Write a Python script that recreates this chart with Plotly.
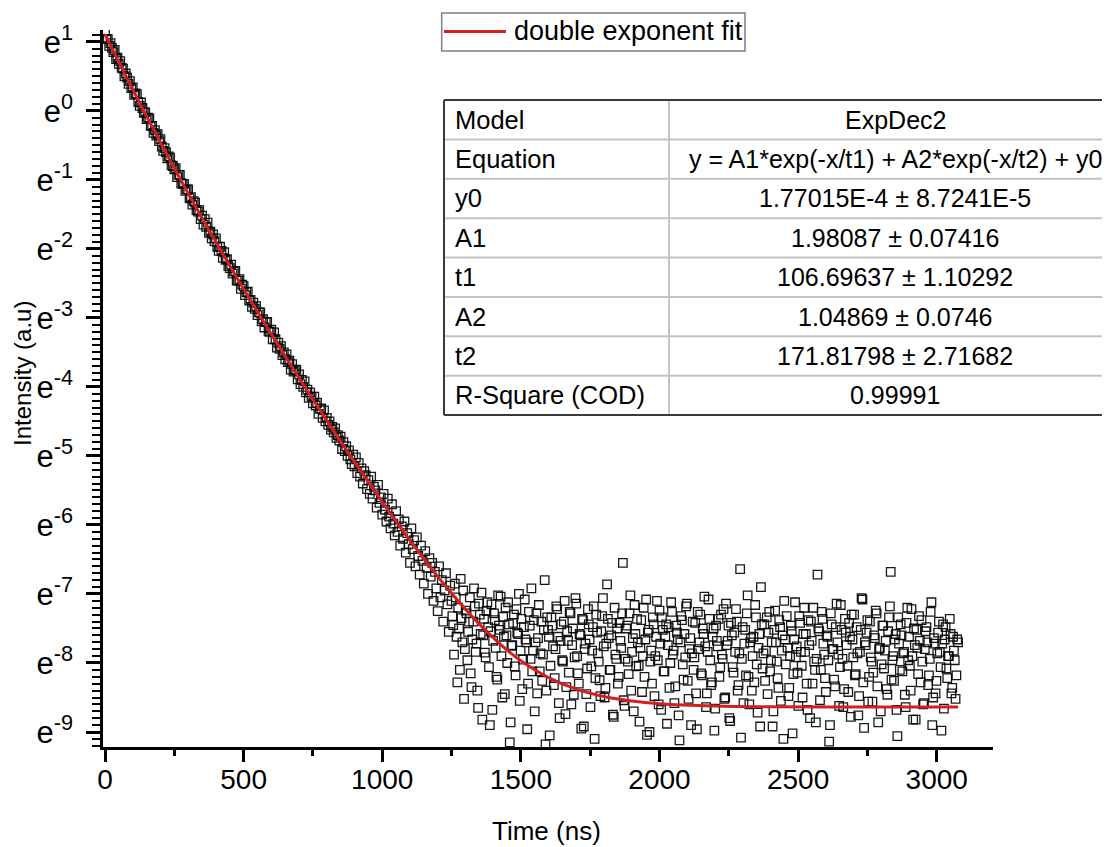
import numpy as np
import plotly.graph_objects as go

# ---------------- data ----------------
# red fitted curve: time (ns) and ln(intensity)
fit_time = [0, 50, 100, 150, 200, 250, 300, 350, 400, 450, 500, 550, 600, 650, 700,
            750, 800, 850, 900, 950, 1000, 1050, 1100, 1150, 1200, 1250, 1300, 1350,
            1400, 1450, 1500, 1600, 1700, 1800, 1900, 2000, 2200, 2400, 2600, 2800, 3077]
fit_ln = [1.108, 0.705, 0.309, -0.079, -0.460, -0.832, -1.197, -1.553, -1.903, -2.246,
          -2.583, -2.913, -3.238, -3.558, -3.872, -4.183, -4.488, -4.790, -5.087, -5.380,
          -5.667, -5.949, -6.224, -6.490, -6.746, -6.991, -7.222, -7.437, -7.633, -7.812,
          -7.967, -8.211, -8.378, -8.485, -8.550, -8.589, -8.623, -8.634, -8.638, -8.639,
          -8.639]

# measured decay (open squares), ln(intensity)
decay_time = list(range(0, 800, 5))
decay_ln = [1.15, 1.04, 1.04, 0.94, 0.98, 0.91, 0.85, 0.88, 0.75, 0.77,
            0.68, 0.72, 0.62, 0.61, 0.50, 0.54, 0.48, 0.39, 0.43, 0.33,
            0.34, 0.23, 0.25, 0.24, 0.13, 0.07, 0.12, 0.04, -0.03, -0.02,
            -0.12, -0.10, -0.11, -0.22, -0.22, -0.32, -0.28, -0.36, -0.34, -0.44,
            -0.41, -0.52, -0.58, -0.54, -0.60, -0.69, -0.66, -0.68, -0.79, -0.80,
            -0.85, -0.83, -0.96, -0.93, -0.93, -1.05, -1.06, -1.06, -1.16, -1.14,
            -1.14, -1.27, -1.25, -1.36, -1.31, -1.33, -1.44, -1.46, -1.44, -1.57,
            -1.52, -1.65, -1.57, -1.68, -1.62, -1.77, -1.75, -1.85, -1.79, -1.89,
            -1.85, -1.97, -2.03, -1.97, -2.03, -2.13, -2.05, -2.16, -2.15, -2.25,
            -2.28, -2.23, -2.36, -2.33, -2.32, -2.46, -2.46, -2.44, -2.58, -2.52,
            -2.54, -2.67, -2.63, -2.62, -2.75, -2.74, -2.84, -2.78, -2.87, -2.83,
            -2.96, -2.92, -2.92, -3.05, -3.02, -3.14, -3.06, -3.06, -3.20, -3.20,
            -3.17, -3.31, -3.21, -3.31, -3.43, -3.36, -3.45, -3.41, -3.54, -3.50,
            -3.60, -3.53, -3.64, -3.62, -3.75, -3.67, -3.78, -3.76, -3.75, -3.89,
            -3.82, -3.96, -3.90, -4.00, -3.92, -4.08, -4.04, -4.16, -4.08, -4.14,
            -4.24, -4.14, -4.27, -4.23, -4.39, -4.32, -4.31, -4.45, -4.34, -4.50]

mid_time = list(range(800, 1250, 5))
mid_ln = [-4.45, -4.55, -4.50, -4.62, -4.58, -4.66, -4.60, -4.74, -4.70, -4.78,
          -4.72, -4.90, -4.80, -4.93, -4.86, -5.00, -4.92, -5.05, -5.12, -4.98,
          -5.15, -5.02, -5.25, -5.10, -5.30, -5.18, -5.40, -5.22, -5.28, -5.48,
          -5.35, -5.55, -5.30, -5.62, -5.45, -5.50, -5.75, -5.42, -5.68, -5.60,
          -5.85, -5.55, -5.78, -5.95, -5.62, -5.88, -6.05, -5.70, -5.98, -6.15,
          -5.80, -6.10, -5.92, -6.30, -6.02, -6.20, -5.95, -6.40, -6.12, -6.28,
          -6.55, -6.05, -6.35, -6.22, -6.60, -6.18, -6.45, -6.72, -6.30, -6.52,
          -6.85, -6.38, -6.62, -7.00, -6.48, -6.75, -6.55, -7.10, -6.68, -6.92,
          -7.25, -6.60, -7.05, -6.80, -7.40, -6.95, -6.70, -7.15, -7.55, -6.88]

tail_time = list(range(1250, 3075, 6))
tail_ln = [-7.10, -7.45, -6.85, -7.62, -7.20, -8.10, -7.35, -6.95, -7.80, -7.28,
           -7.55, -7.05, -8.35, -7.40, -7.18, -7.72, -8.65, -7.30, -6.98, -7.60,
           -7.85, -7.25, -7.48, -8.90, -7.15, -7.68, -7.38, -8.20, -7.02, -7.52,
           -7.90, -7.33, -8.45, -7.60, -7.12, -9.15, -7.75, -7.42, -8.05, -7.22,
           -7.58, -8.55, -7.36, -7.95, -7.08, -7.70, -8.30, -7.46, -6.92, -7.82,
           -8.70, -7.28, -7.64, -8.12, -7.40, -7.88, -6.80, -8.40, -7.52, -9.05,
           -7.34, -7.76, -8.22, -7.18, -7.62, -8.80, -7.44, -7.98, -7.10, -8.35,
           -7.68, -7.26, -8.60, -7.50, -7.92, -7.14, -8.15, -7.58, -8.95, -7.38,
           -7.80, -8.45, -7.22, -7.66, -8.05, -7.48, -9.10, -7.30, -7.86, -8.25,
           -7.54, -7.06, -8.50, -7.72, -7.36, -8.10, -7.60, -8.75, -7.20, -7.94,
           -8.30, -7.42, -7.78, -6.55, -8.62, -7.50, -7.98, -7.28, -8.40, -7.64,
           -7.16, -8.05, -7.70, -8.85, -7.38, -7.90, -8.20, -7.08, -7.56, -9.00,
           -7.82, -7.34, -8.48, -7.62, -7.96, -7.24, -8.68, -7.52, -8.12, -7.44,
           -7.74, -8.36, -7.12, -7.88, -8.58, -7.46, -7.66, -9.12, -7.32, -8.02,
           -7.58, -7.18, -8.26, -7.80, -8.90, -7.40, -7.92, -8.44, -7.26, -7.70,
           -8.15, -7.50, -7.04, -8.64, -7.84, -7.36, -8.32, -7.62, -8.98, -7.46,
           -7.76, -8.20, -7.30, -7.94, -8.52, -7.14, -7.68, -8.80, -7.42, -8.06,
           -7.56, -7.22, -8.40, -7.86, -9.08, -7.48, -7.72, -8.18, -7.02, -8.60,
           -7.64, -7.90, -8.28, -7.34, -8.72, -7.58, -6.90, -8.08, -7.44, -7.82,
           -8.45, -7.26, -7.96, -8.92, -7.52, -7.70, -8.22, -7.38, -8.55, -7.60,
           -7.10, -8.02, -7.78, -8.36, -7.46, -9.02, -7.66, -7.92, -8.14, -7.32,
           -7.84, -8.50, -7.20, -7.58, -8.68, -7.74, -7.40, -8.30, -7.98, -8.86,
           -6.72, -7.54, -8.10, -7.36, -7.88, -8.42, -7.62, -9.14, -7.28, -7.80,
           -8.24, -7.48, -7.70, -8.62, -7.16, -7.94, -8.38, -7.56, -8.04, -7.42,
           -8.78, -7.66, -7.30, -8.16, -7.86, -8.48, -7.52, -7.08, -8.94, -7.74,
           -7.38, -8.20, -7.92, -8.56, -7.60, -7.24, -8.34, -7.80, -8.70, -7.46,
           -8.08, -7.68, -8.46, -7.34, -6.68, -7.96, -8.26, -7.58, -9.06, -7.72,
           -7.44, -8.12, -7.84, -8.64, -7.20, -7.62, -8.40, -7.90, -7.50, -8.82,
           -7.78, -7.32, -8.28, -7.98, -8.58, -7.54, -7.70, -8.18, -7.26, -8.90,
           -7.64, -8.44, -7.86, -7.40, -8.06, -7.72, -8.66, -7.48, -8.22, -7.90,
           -7.58, -8.36, -7.82, -8.52, -7.66]

tail2_time = list(range(1253, 3078, 6))
tail2_ln = [-7.32, -7.88, -7.05, -8.28, -7.50, -6.78, -7.70, -8.52, -7.24, -7.96,
            -7.40, -8.15, -7.66, -6.92, -7.84, -8.40, -7.14, -7.58, -8.82, -7.36,
            -7.92, -7.12, -8.06, -7.54, -8.68, -7.28, -7.78, -8.24, -7.46, -7.04,
            -8.50, -7.62, -7.20, -8.00, -7.44, -8.86, -7.74, -7.30, -8.18, -7.56,
            -7.00, -7.82, -8.38, -7.48, -7.66, -8.96, -7.26, -7.94, -8.12, -7.38,
            -7.70, -8.44, -7.16, -7.86, -8.26, -7.52, -9.18, -7.34, -7.62, -8.04,
            -7.46, -8.32, -7.80, -7.22, -8.58, -7.68, -7.96, -7.40, -8.74, -7.54,
            -8.14, -7.28, -7.74, -8.46, -7.06, -7.90, -8.30, -7.60, -7.36, -8.92,
            -7.72, -8.08, -7.44, -8.64, -7.82, -7.18, -8.22, -7.56, -7.98, -8.48,
            -7.32, -7.76, -8.36, -6.86, -7.64, -8.10, -7.42, -8.78, -7.88, -7.50,
            -8.20, -7.68, -7.28, -8.54, -7.94, -7.46, -8.16, -7.02, -7.84, -8.70,
            -7.58, -7.36, -8.04, -7.78, -8.42, -7.20, -7.66, -9.04, -7.52, -7.98,
            -8.30, -7.44, -7.90, -7.10, -8.60, -7.72, -7.34, -8.12, -7.62, -8.88,
            -7.48, -8.00, -7.26, -7.82, -8.34, -7.56, -8.76, -7.70, -7.38, -8.24,
            -7.92, -7.14, -8.52, -7.64, -7.86, -8.10, -7.42, -8.96, -7.80, -7.30,
            -8.18, -7.58, -7.76, -8.44, -7.08, -7.96, -8.28, -7.50, -8.66, -7.68,
            -7.36, -8.06, -7.88, -7.22, -8.50, -7.74, -7.46, -8.84, -7.60, -8.14,
            -7.84, -7.40, -8.32, -6.64, -7.94, -8.58, -7.52, -7.28, -8.20, -7.70,
            -8.40, -7.62, -7.16, -8.02, -7.78, -8.92, -7.44, -7.86, -8.26, -7.34,
            -7.56, -8.12, -7.70, -8.70, -7.24, -7.98, -8.36, -7.48, -7.82, -9.10,
            -7.66, -7.32, -8.48, -7.90, -7.54, -8.16, -7.12, -7.76, -8.62, -7.42,
            -8.04, -7.58, -7.84, -8.30, -7.38, -8.80, -7.68, -7.20, -8.10, -7.94,
            -7.50, -8.54, -7.26, -7.72, -8.22, -7.60, -7.96, -8.90, -7.44, -7.80,
            -8.34, -7.14, -7.88, -8.06, -7.52, -8.64, -7.36, -7.74, -8.42, -7.62,
            -7.30, -7.92, -8.18, -7.48, -8.76, -7.84, -7.06, -8.28, -7.70, -7.56,
            -8.56, -7.40, -7.98, -8.14, -7.64, -7.28, -8.86, -7.78, -8.02, -7.46,
            -7.82, -8.38, -7.54, -7.18, -8.24, -7.90, -7.66, -8.68, -7.34, -8.10,
            -7.60, -7.86, -8.46, -7.42, -7.96, -8.04, -7.22, -8.82, -7.74, -7.52,
            -8.16, -7.68, -7.38, -8.60, -7.80, -7.48, -8.32, -7.94, -7.12, -8.50,
            -7.72, -8.26, -7.56, -7.84, -8.98, -7.44, -7.66, -8.08, -7.90, -7.36,
            -8.44, -7.62, -7.96, -8.18, -7.70]

x_tick_vals = [0, 500, 1000, 1500, 2000, 2500, 3000]
x_minor_vals = [250, 750, 1250, 1750, 2250, 2750]
y_tick_powers = [-9, -8, -7, -6, -5, -4, -3, -2, -1, 0, 1]

legend_label = "double exponent fit"
table_labels = ["Model", "Equation", "y0", "A1", "t1", "A2", "t2", "R-Square (COD)"]
table_values = ["ExpDec2",
                "y = A1*exp(-x/t1) + A2*exp(-x/t2) + y0",
                "1.77015E-4 ± 8.7241E-5",
                "1.98087 ± 0.07416",
                "106.69637 ± 1.10292",
                "1.04869 ± 0.0746",
                "171.81798 ± 2.71682",
                "0.99991"]

# ---------------- layout geometry ----------------
# the page body adds an 8px margin at the top-left, so the figure is shifted
# by 8px; it is sized to reach exactly the right and bottom window edges
OFF = 8
W, H = 1110 - OFF, 847 - OFF
PLOT_L, PLOT_R, PLOT_T, PLOT_B = 103 - OFF, 993 - OFF, 30 - OFF, 747 - OFF
L, R, T, B = PLOT_L, W - PLOT_R, PLOT_T, H - PLOT_B
PW, PH = PLOT_R - PLOT_L, PLOT_B - PLOT_T
FONT = "Arial, Liberation Sans, sans-serif"


def px_x(px):
    """reference-picture x pixel -> paper coordinate"""
    return (px - OFF - PLOT_L) / PW


def px_y(py):
    """reference-picture y pixel -> paper coordinate"""
    return (PLOT_B - (py - OFF)) / PH


meas_time = decay_time + mid_time + tail_time + tail2_time
meas_ln = decay_ln + mid_ln + tail_ln + tail2_ln

fig = go.Figure()
fig.add_trace(go.Scatter(
    x=meas_time, y=np.exp(meas_ln), mode="markers", showlegend=False,
    marker=dict(symbol="square-open", size=8.5, color="rgba(0,0,0,0.9)",
                line=dict(width=1.3, color="rgba(0,0,0,0.9)")),
    name="data"))
fig.add_trace(go.Scatter(
    x=fit_time, y=np.exp(fit_ln), mode="lines", line_shape="spline",
    line=dict(color="#d2201f", width=3), name=legend_label, showlegend=False))

ln10 = np.log(10)
y_lo, y_hi = -9.217, 1.17
y_major = [float(np.exp(p)) for p in y_tick_powers]
y_text = ["e<sup>%d</sup>" % p for p in y_tick_powers]
y_minor = []
for n in range(-10, 2):
    for k in range(1, 10):
        v = n + k / 10
        if y_lo <= v <= y_hi:
            y_minor.append(float(np.exp(v)))

fig.update_xaxes(
    range=[-7.2, 3203], showgrid=False, zeroline=False, showline=True,
    linecolor="black", linewidth=2.5, ticks="outside", ticklen=12, tickwidth=2.5,
    tickcolor="black", tickmode="array", tickvals=x_tick_vals,
    tickfont=dict(family=FONT, size=28, color="black"), automargin=False,
    ticklabelstandoff=-6,
    minor=dict(tickmode="array", tickvals=x_minor_vals, ticks="outside",
               ticklen=6, tickwidth=2.5, tickcolor="black", showgrid=False))
fig.update_yaxes(
    type="log", range=[y_lo / ln10, y_hi / ln10], showgrid=False, zeroline=False,
    showline=True, linecolor="black", linewidth=2.5, ticks="outside", ticklen=14,
    tickwidth=2.5, tickcolor="black", tickmode="array", tickvals=y_major,
    ticktext=y_text, tickfont=dict(family=FONT, size=31, color="black"),
    automargin=False, ticklabelstandoff=7,
    minor=dict(tickmode="array", tickvals=y_minor, ticks="outside", ticklen=8,
               tickwidth=2, tickcolor="black", showgrid=False))

shapes = []
annotations = []

# legend (drawn by hand to match the boxed Origin legend)
shapes.append(dict(type="rect", xref="paper", yref="paper",
                   x0=px_x(441.7), x1=px_x(745), y0=px_y(51), y1=px_y(13),
                   fillcolor="white", line=dict(color="#808080", width=1.5)))
shapes.append(dict(type="line", xref="paper", yref="paper",
                   x0=px_x(444), x1=px_x(506), y0=px_y(31.5), y1=px_y(31.5),
                   line=dict(color="#d2201f", width=3)))
annotations.append(dict(xref="paper", yref="paper", x=px_x(512), y=px_y(31.5),
                        xanchor="left", yanchor="middle", text=legend_label,
                        showarrow=False, font=dict(family=FONT, size=27, color="black")))

# parameter table
tab_left, tab_div, tab_right = 444, 669, 1125
tab_top, tab_bot = 100, 415
row_h = (tab_bot - tab_top) / len(table_labels)
shapes.append(dict(type="rect", xref="paper", yref="paper",
                   x0=px_x(tab_left), x1=px_x(tab_right), y0=px_y(tab_bot), y1=px_y(tab_top),
                   fillcolor="white", line=dict(width=0), layer="above"))
for i in range(1, len(table_labels)):
    yy = px_y(tab_top + i * row_h)
    shapes.append(dict(type="line", xref="paper", yref="paper",
                       x0=px_x(tab_left), x1=px_x(tab_right), y0=yy, y1=yy,
                       line=dict(color="#c4c4c4", width=2)))
shapes.append(dict(type="line", xref="paper", yref="paper",
                   x0=px_x(tab_div), x1=px_x(tab_div), y0=px_y(tab_bot), y1=px_y(tab_top),
                   line=dict(color="#c4c4c4", width=2)))
for (x0, y0, x1, y1) in [(tab_left, tab_top, tab_right, tab_top),
                         (tab_left, tab_bot, tab_right, tab_bot),
                         (tab_left, tab_top, tab_left, tab_bot)]:
    shapes.append(dict(type="line", xref="paper", yref="paper",
                       x0=px_x(x0), x1=px_x(x1), y0=px_y(y0), y1=px_y(y1),
                       line=dict(color="#3a3a3a", width=2)))
for i, (lab, val) in enumerate(zip(table_labels, table_values)):
    yc = px_y(tab_top + (i + 0.5) * row_h)
    annotations.append(dict(xref="paper", yref="paper", x=px_x(453), y=yc,
                            xanchor="left", yanchor="middle", text=lab, showarrow=False,
                            font=dict(family=FONT, size=25.5, color="black")))
    annotations.append(dict(xref="paper", yref="paper", x=px_x(895), y=yc,
                            xanchor="center", yanchor="middle", text=val, showarrow=False,
                            font=dict(family=FONT, size=25, color="black")))

# axis titles
annotations.append(dict(xref="paper", yref="paper", x=px_x(546), y=px_y(831),
                        xanchor="center", yanchor="middle", text="Time (ns)",
                        showarrow=False, font=dict(family=FONT, size=26, color="black")))
annotations.append(dict(xref="paper", yref="paper", x=px_x(22), y=px_y(374),
                        xanchor="center", yanchor="middle", text="Intensity (a.u)",
                        textangle=-90, showarrow=False,
                        font=dict(family=FONT, size=24, color="black")))

fig.update_layout(
    width=W, height=H, template="none",
    margin=dict(l=L, r=R, t=T, b=B, pad=0),
    paper_bgcolor="white", plot_bgcolor="white",
    showlegend=False,
    shapes=shapes, annotations=annotations,
    font=dict(family=FONT, color="black"),
)

fig.write_html("out.html")
